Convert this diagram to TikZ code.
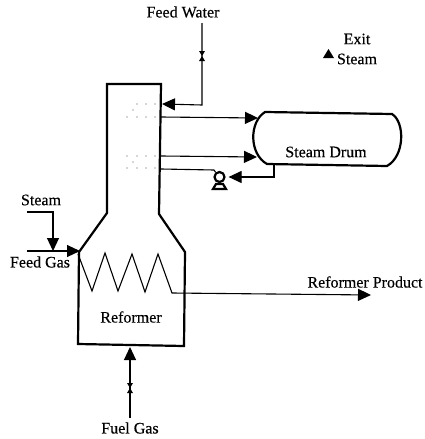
\documentclass[tikz,border=0pt]{standalone}
\usepackage{fontspec}
\setmainfont{Liberation Serif}
\newfontfamily\lblfont[FakeBold=0.3]{Liberation Serif}
\usetikzlibrary{positioning,calc,arrows.meta}
\tikzset{
	wall/.style={line width=2.2pt, line join=miter},
	pipe/.style={line width=1.1pt},
	flow/.style={pipe, -{Triangle[length=13pt,width=12pt]}},
	lbl/.style={inner sep=0, font=\fontsize{16}{18}\selectfont\lblfont},
}
\begin{document}
\begin{tikzpicture}[x=1pt,y=-1pt]
	\useasboundingbox (0,0) rectangle (425,439);
	% furnace outline
	\draw[wall] (107,84) -- (161,84) -- (159,214) -- (185,252) -- (184,346) -- (78,344) -- (79,252) -- (107,213) -- cycle;
	% drum
	\draw[wall] (265,112) .. controls (249,122) and (249,154) .. (267,164) -- (387,166) .. controls (405,156) and (405,122) .. (392,114) -- cycle;
	\node[lbl] (drumlbl) at (326,152) {Steam Drum};
	\node[lbl] (reflbl) at (131,317) {Reformer};
	% coil and product
	\coordinate (coilin) at (78,254);
	\coordinate (coilout) at (172,293);
	\coordinate (prodend) at (371,295);
	\draw[flow] (coilin) -- (92,291) -- (105,253) -- (118,291) -- (132,254) -- (145,292) -- (158,254) -- (coilout) -- (prodend);
	\node[lbl] (prodlbl) at (365,282) {Reformer Product};
	% feeds
	\node[lbl] (fwlbl) at (183,12) {Feed Water};
	\coordinate (fwtop) at (202,23);
	\coordinate (fwturn) at (202,105);
	\coordinate (fwin) at (162,104);
	\draw[flow] (fwtop) -- (fwturn) -- (fwin);
	\node[lbl] (exitlbl) at (357,39) {Exit};
	\node[lbl] (steamlbl) at (357,59) {Steam};
	\fill (323,58) -- (328.5,49) -- (334,58) -- cycle;
	\coordinate (s1) at (161,117);
	\coordinate (d1) at (258,118);
	\draw[flow] (s1) -- (d1);
	\coordinate (s2) at (161,156);
	\coordinate (d2) at (257,157);
	\draw[flow] (s2) -- (d2);
	% pump
	\node[draw, circle, line width=2.2pt, minimum size=10pt, inner sep=0] (pump) at (219.5,177) {};
	\draw[wall] (213,189) -- (226,189) -- (223,184) -- (216,184) -- cycle;
	\coordinate (s3) at (161,169);
	\coordinate (p3) at (214,170);
	\draw[pipe] (s3) -- (p3) -- (pump.130);
	\coordinate (dr) at (274,165);
	\coordinate (dt) at (274,177);
	\draw[flow, shorten >=3pt] (dr) -- (dt) -- (pump.east);
	% left side
	\node[lbl] (stmlbl) at (41,200) {Steam};
	\coordinate (st) at (27,212);
	\coordinate (stt) at (53,212);
	\coordinate (stb) at (53,251);
	\draw[flow] (st) -- (stt) -- (stb);
	\coordinate (fg) at (27,251);
	\coordinate (fgin) at (80,251);
	\draw[flow] (fg) -- (fgin);
	\node[lbl] (fglbl) at (40,262) {Feed Gas};
	\node[lbl] (fuellbl) at (130,428) {Fuel Gas};
	\coordinate (fu) at (130,418);
	\coordinate (fuin) at (130,347);
	\draw[flow] (fu) -- (fuin);
	% valves
	\foreach \vx/\vy in {202/56,130/388}{
		\fill (\vx-3,\vy-5) -- (\vx+3,\vy-5) -- (\vx-3,\vy+5) -- (\vx+3,\vy+5) -- cycle;
	}
	% dots in the stack
	\foreach \dx/\dy in {137/104,146/104,155/104,133/110,127/117,137/117,146/117,155/117,127/156,137/156,146/156,155/156,133/162,127/168,137/168,146/168,155/168}{
		\fill[black!70] (\dx,\dy) circle (0.6);
	}
\end{tikzpicture}
\end{document}
